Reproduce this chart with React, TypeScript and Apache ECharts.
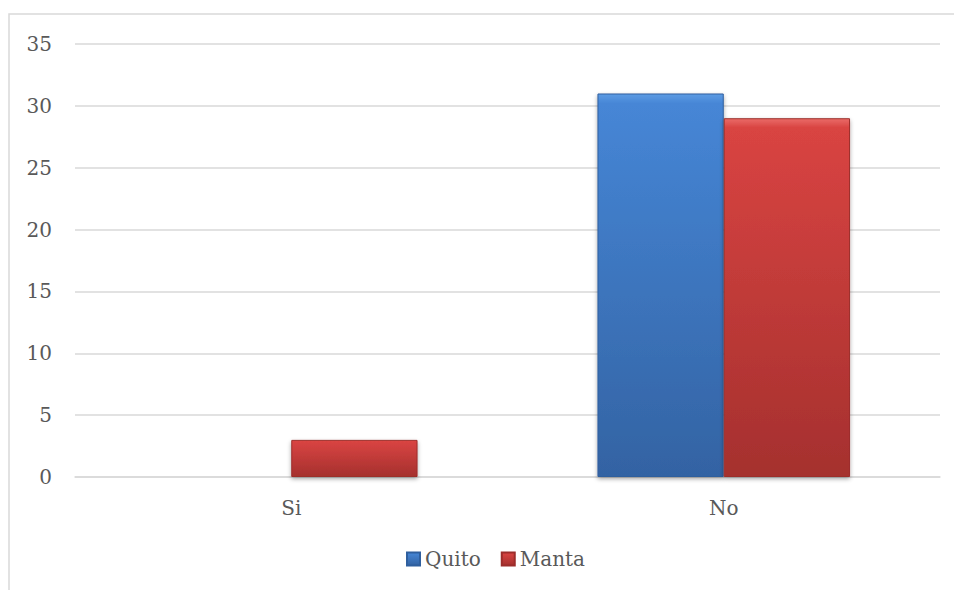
import React, { useEffect, useRef } from "react";
import * as echarts from "echarts";

const categories = ["Si", "No"];
const quito = [0, 31];
const manta = [3, 29];
const seriesNames = ["Quito", "Manta"];

const FONT = "DejaVu Serif";

export default function App() {
  const ref = useRef<HTMLDivElement>(null);
  useEffect(() => {
    if (!ref.current) return;
    const chart = echarts.init(ref.current, null, { renderer: "svg" });
    const blue = new echarts.graphic.LinearGradient(0, 0, 0, 1, [
      { offset: 0, color: "#5d9be3" },
      { offset: 0.025, color: "#4686d6" },
      { offset: 1, color: "#3363a3" },
    ]);
    const red = new echarts.graphic.LinearGradient(0, 0, 0, 1, [
      { offset: 0, color: "#ea6b68" },
      { offset: 0.025, color: "#d94442" },
      { offset: 1, color: "#a5302e" },
    ]);
    chart.setOption({
      animation: false,
      backgroundColor: "#ffffff",
      graphic: [
        {
          type: "rect",
          shape: { x: 9, y: 14, width: 1000, height: 700 },
          style: { fill: "none", stroke: "#d9d9d9", lineWidth: 1.5 },
          silent: true,
          z: -10,
        },
      ],
      grid: { left: 75, right: 14, top: 44, bottom: 113, containLabel: false },
      legend: {
        top: 544,
        left: 401,
        itemWidth: 13,
        itemHeight: 13,
        itemGap: 20,
        icon: "rect",
        textStyle: { fontFamily: FONT, fontSize: 20, color: "#595959" },
        data: seriesNames,
      },
      xAxis: {
        type: "category",
        data: categories,
        axisLine: { show: true, lineStyle: { color: "#d9d9d9", width: 1.5 } },
        axisTick: { show: false },
        axisLabel: { fontFamily: FONT, fontSize: 20, color: "#595959", margin: 21 },
      },
      yAxis: {
        type: "value",
        min: 0,
        max: 35,
        interval: 5,
        axisLine: { show: false },
        axisTick: { show: false },
        splitLine: { lineStyle: { color: "#d9d9d9", width: 1.5 } },
        axisLabel: { fontFamily: FONT, fontSize: 20, color: "#595959", margin: 23 },
      },
      series: [
        {
          name: seriesNames[0],
          type: "bar",
          data: quito,
          barGap: "0%",
          barCategoryGap: "41.6%",
          itemStyle: {
            color: blue,
            borderColor: "#2f5f9e",
            borderWidth: 1,
            shadowColor: "rgba(0,0,0,0.35)",
            shadowBlur: 4,
            shadowOffsetY: 2,
          },
        },
        {
          name: seriesNames[1],
          type: "bar",
          data: manta,
          barGap: "0%",
          barCategoryGap: "41.6%",
          itemStyle: {
            color: red,
            borderColor: "#9c2d2b",
            borderWidth: 1,
            shadowColor: "rgba(0,0,0,0.35)",
            shadowBlur: 4,
            shadowOffsetY: 2,
          },
        },
      ],
    });
    return () => chart.dispose();
  }, []);
  return (
    <div
      ref={ref}
      style={{ position: "fixed", left: 0, top: 0, width: 954, height: 590 }}
    />
  );
}
